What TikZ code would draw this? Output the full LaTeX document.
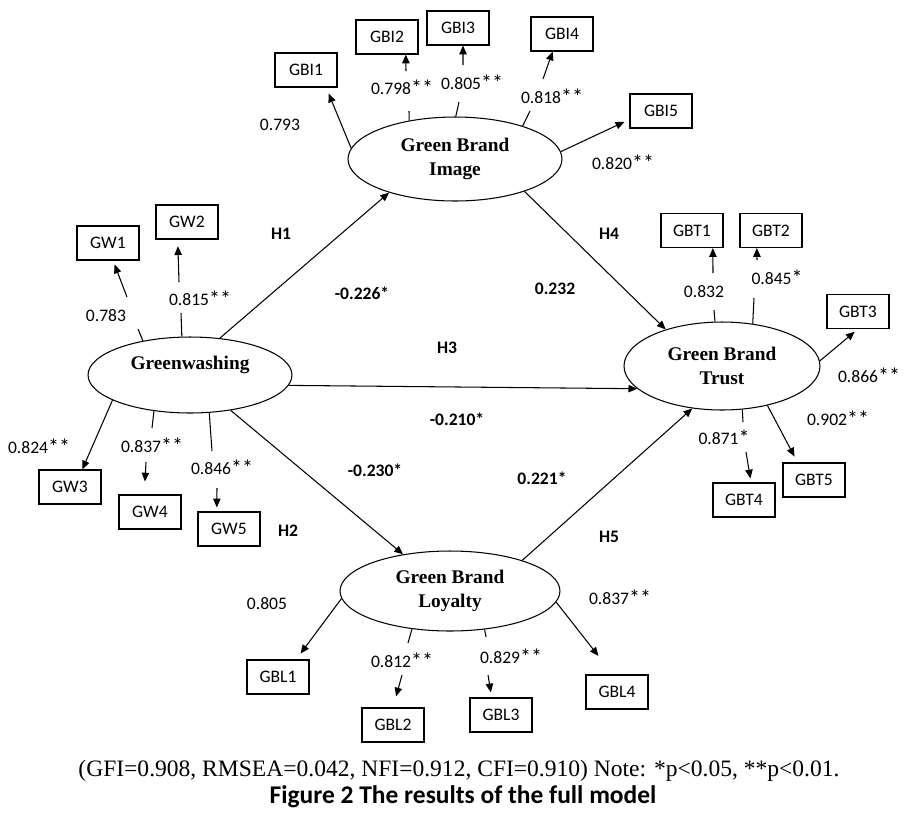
\documentclass[tikz,border=0pt]{standalone}
\usepackage{fontspec}
\setmainfont{Carlito}
\newfontfamily\latfont{Liberation Serif}
\newfontfamily\capfont{Liberation Serif}
\usetikzlibrary{arrows.meta,shapes.geometric}
\newcommand\sgstar{\raisebox{-0.9pt}{\fontsize{12.5}{12}\selectfont *}}
\tikzset{
  lat/.style={draw, ellipse, line width=0.6pt, inner sep=0pt, align=center,
    font=\latfont\bfseries\fontsize{11}{13.3}\selectfont},
  ind/.style={draw, rectangle, line width=0.6pt, minimum width=1.24cm,
    minimum height=0.68cm, inner sep=0pt, font=\fontsize{10}{12}\selectfont},
  ld/.style={inner sep=0pt, font=\fontsize{10}{12}\selectfont},
  hl/.style={inner sep=0pt, font=\bfseries\fontsize{10}{12}\selectfont},
  arr/.style={line width=0.6pt, -{Triangle[length=5pt,width=4.2pt]}},
  ln/.style={line width=0.6pt},
}
\begin{document}
\begin{tikzpicture}[x=0.02cm,y=-0.02cm]
\useasboundingbox (0,0) rectangle (917,816);

% latent variables
\node[lat, minimum width=4.28cm, minimum height=1.68cm] (GBI) at (455,159) {Green Brand\\Image};
\node[lat, minimum width=4.08cm, minimum height=1.52cm,
  label={[font=\latfont\bfseries\fontsize{11}{13}\selectfont, yshift=5.5pt]center:Greenwashing}] (GW) at (190,375) {};
\node[lat, minimum width=3.92cm, minimum height=1.76cm] (GBT) at (722,366) {Green Brand\\Trust};
\node[lat, minimum width=4.40cm, minimum height=1.60cm] (GBL) at (450,591) {Green Brand\\Loyalty};

% indicators
\node[ind] (GBI1) at (306,70) {GBI1};
\node[ind] (GBI2) at (387,37) {GBI2};
\node[ind] (GBI3) at (458,28) {GBI3};
\node[ind] (GBI4) at (562,34) {GBI4};
\node[ind] (GBI5) at (661,111) {GBI5};
\node[ind] (GW1) at (108,243) {GW1};
\node[ind] (GW2) at (187,222) {GW2};
\node[ind] (GW3) at (70,487) {GW3};
\node[ind] (GW4) at (150,512) {GW4};
\node[ind] (GW5) at (229,529) {GW5};
\node[ind] (GBT1) at (692,230.5) {GBT1};
\node[ind] (GBT2) at (771,230.5) {GBT2};
\node[ind] (GBT3) at (858,311.5) {GBT3};
\node[ind] (GBT4) at (744,500) {GBT4};
\node[ind] (GBT5) at (814,480) {GBT5};
\node[ind] (GBL1) at (278,677) {GBL1};
\node[ind] (GBL2) at (393,725) {GBL2};
\node[ind] (GBL3) at (501,715) {GBL3};
\node[ind] (GBL4) at (617,692) {GBL4};

% break points of the indicator paths
\coordinate (b2a) at (409,111); \coordinate (b2b) at (406,71);
\coordinate (b3a) at (459,102); \coordinate (b3b) at (463,65);
\coordinate (b4a) at (530,111); \coordinate (b4b) at (543,79);
\coordinate (w1a) at (138,329); \coordinate (w1b) at (127,297);
\coordinate (w2a) at (181,313); \coordinate (w2b) at (179,282);
\coordinate (w4a) at (152,428); \coordinate (w4b) at (146,462);
\coordinate (w5a) at (212,451); \coordinate (w5b) at (217,488);
\coordinate (t1a) at (714,310); \coordinate (t1b) at (713,273);
\coordinate (t2a) at (754,298); \coordinate (t2b) at (757,260);
\coordinate (t4a) at (743,422); \coordinate (t4b) at (746,452);
\coordinate (l2a) at (408,643); \coordinate (l2b) at (402,675);
\coordinate (l3a) at (486,637); \coordinate (l3b) at (488,675);

% Green Brand Image indicators
\draw[arr, shorten >=3.7pt] (GBI.174) -- (GBI1.-41);
\draw[ln] (GBI.140) -- (b2a); \draw[arr] (b2b) -- (GBI2.-43);
\draw[ln] (GBI.89) -- (b3a); \draw[arr] (b3b) -- (GBI3.-74);
\draw[ln] (GBI.26) -- (b4a); \draw[arr] (b4b) -- (GBI4.242);
\draw[arr, shorten >=3.2pt] (GBI.4) -- (GBI5.195);

% Greenwashing indicators
\draw[ln] (GW.144) -- (w1a); \draw[arr, shorten >=2.4pt] (w1b) -- (GW1.-74);
\draw[ln] (GW.102) -- (w2a); \draw[arr, shorten >=3.8pt] (w2b) -- (GW2.242);
\draw[arr] (GW.198) -- (GW3.55);
\draw[ln] (GW.225) -- (w4a); \draw[arr, shorten >=7.4pt] (w4b) -- (GW4.108);
\draw[ln] (GW.297) -- (w5a); \draw[arr, shorten >=2.3pt] (w5b) -- (GW5.125);

% Green Brand Trust indicators
\draw[ln] (GBT.99) -- (t1a); \draw[arr] (t1b) -- (GBT1.-40);
\draw[ln] (GBT.54) -- (t2a); \draw[arr] (t2b) -- (GBT2.231);
\draw[arr, shorten >=2.4pt] (GBT.3) -- (GBT3.270);
\draw[ln] (GBT.295) -- (t4a); \draw[arr, shorten >=2.3pt] (t4b) -- (GBT4.68);
\draw[arr, shorten >=3.8pt] (GBT.319) -- (GBT5.133);

% Green Brand Loyalty indicators
\draw[arr, shorten >=4.2pt] (GBL.184) -- (GBL1.44);
\draw[ln] (GBL.225) -- (l2a); \draw[arr, shorten >=6.5pt] (l2b) -- (GBL2.90);
\draw[ln] (GBL.312) -- (l3a); \draw[arr, shorten >=2.9pt] (l3b) -- (GBL3.118);
\draw[arr, shorten >=13.4pt] (GBL.354) -- (GBL4.103);

% structural paths
\draw[arr] (GW.51) -- (GBI.207);
\draw[arr] (GBI.335) -- (GBT.147);
\draw[arr] (GW.354) -- (GBT.195);
\draw[arr] (GW.319) -- (GBL.142);
\draw[arr] (GBL.23) -- (GBT.235);

% loadings
\node[ld] (L1) at (280,125) {0.793};
\node[ld] (L2) at (402,88) {0.798\sgstar\sgstar};
\node[ld] (L3) at (472,83) {0.805\sgstar\sgstar};
\node[ld] (L4) at (552,97) {0.818\sgstar\sgstar};
\node[ld] (L5) at (623,163) {0.820\sgstar\sgstar};
\node[ld] (L6) at (106,316) {0.783};
\node[ld] (L7) at (200,299) {0.815\sgstar\sgstar};
\node[ld] (L8) at (39,447) {0.824\sgstar\sgstar};
\node[ld] (L9) at (152,446) {0.837\sgstar\sgstar};
\node[ld] (L10) at (222,468) {0.846\sgstar\sgstar};
\node[ld] (L11) at (704,292) {0.832};
\node[ld] (L12) at (777,278) {0.845\sgstar};
\node[ld] (L13) at (869,376) {0.866\sgstar\sgstar};
\node[ld] (L14) at (724,438) {0.871\sgstar};
\node[ld] (L15) at (838,419) {0.902\sgstar\sgstar};
\node[ld] (L16) at (267,604) {0.805};
\node[ld] (L17) at (402,661) {0.812\sgstar\sgstar};
\node[ld] (L18) at (511,657) {0.829\sgstar\sgstar};
\node[ld] (L19) at (620,598) {0.837\sgstar\sgstar};

% hypotheses and path coefficients
\node[hl] (H1) at (281,234) {H1};
\node[hl] (P1) at (362,293) {-0.226*};
\node[hl] (H4) at (609,234) {H4};
\node[hl] (P4) at (555,289) {0.232};
\node[hl] (H3) at (447,348) {H3};
\node[hl] (P3) at (457,419) {-0.210*};
\node[hl] (H2) at (288,531) {H2};
\node[hl] (P2) at (375,470) {-0.230*};
\node[hl] (H5) at (609,537) {H5};
\node[hl] (P5) at (542,478) {0.221*};

% caption
\node[inner sep=0pt, font=\capfont\fontsize{13.4}{16}\selectfont] (cap1) at (459,771)
  {(GFI=0.908, RMSEA=0.042, NFI=0.912, CFI=0.910) Note: *p<0.05, **p<0.01.};
\node[inner sep=0pt, font=\bfseries\fontsize{14.5}{16}\selectfont] (cap2) at (463,797)
  {Figure 2 The results of the full model};
\end{tikzpicture}
\end{document}
